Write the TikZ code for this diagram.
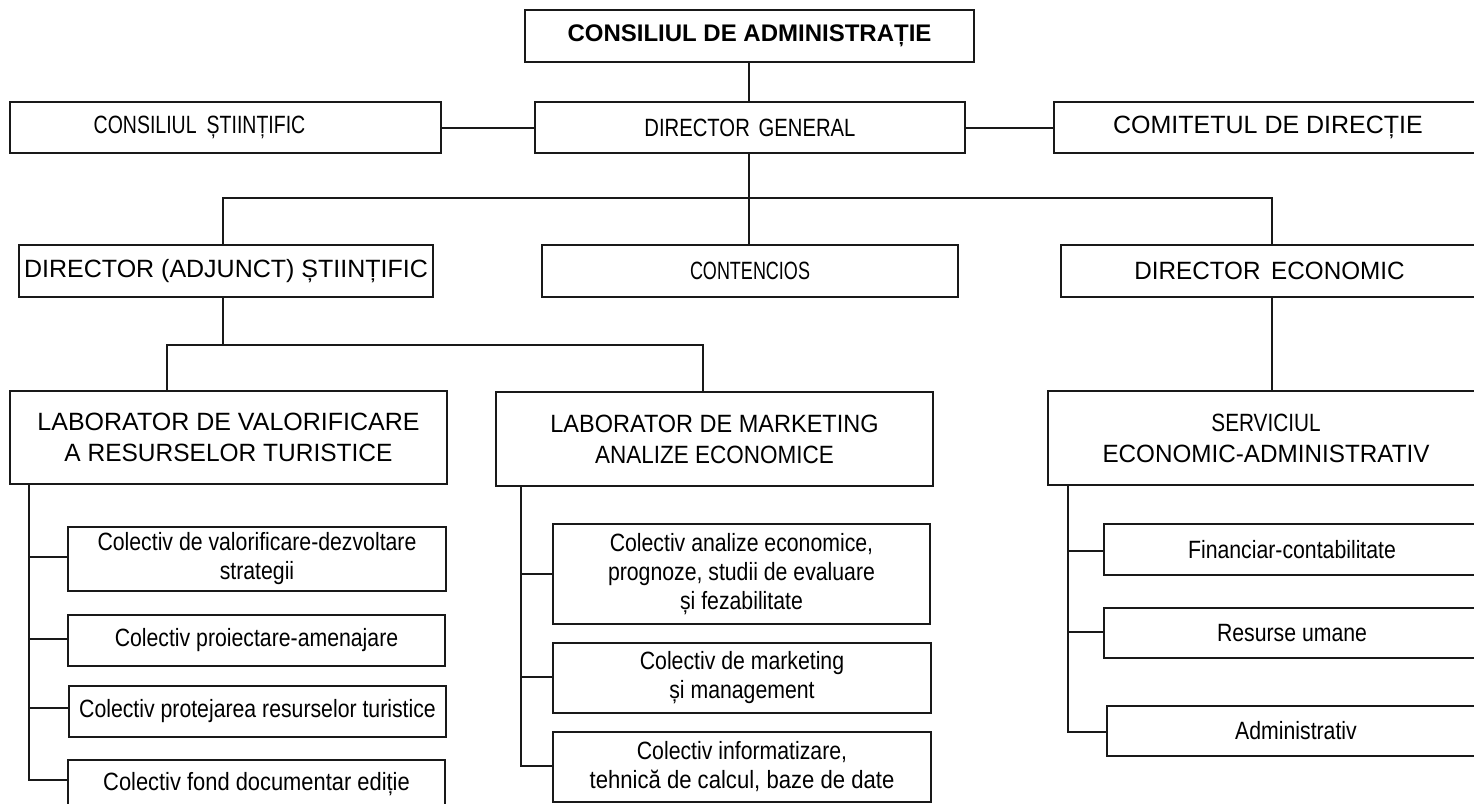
\documentclass[tikz,border=0pt]{standalone}
\usepackage{graphicx}
\usepackage{fontspec}
\setmainfont{Liberation Sans}
\newfontfamily\narrowfont{Liberation Sans}[FakeStretch=0.85]
\tikzset{
  box/.style={draw=black!90, line width=1pt, inner sep=0pt, align=center,
    font=\fontsize{12.5}{15.5}\selectfont},
  subbox/.style={box, font=\narrowfont\fontsize{12.5}{14.5}\selectfont},
  titlebox/.style={box, font=\bfseries\fontsize{12}{14}\selectfont},
  ln/.style={line width=1pt, draw=black!90},
}
\newcommand\hs[2]{\scalebox{#1}[1]{#2}}
% \bx{name}{x1}{y1}{x2}{y2}{style}{text}
\newcommand\bx[7]{\node[#6, minimum width={(#4-#2)*0.5pt}, minimum height={(#5-#3)*0.5pt}] (#1) at ({(#2+#4)/2},{(#3+#5)/2}) {#7};}
\begin{document}
\begin{tikzpicture}[x=0.5pt, y=-0.5pt]
\useasboundingbox (0,0) rectangle (1474,804);
\fill[white] (0,0) rectangle (1474,804);
\clip (0,0) rectangle (1474,804);

% level 0 / 1
\bx{cda}{525}{10}{974}{62}{titlebox}{CONSILIUL DE ADMINISTRAȚIE}
\bx{cs}{10}{102}{441}{153}{box}{\hs{0.78}{CONSILIUL\hspace{3pt} ȘTIINȚIFIC}\hspace{26pt}}
\bx{dg}{535}{102}{965}{153}{box}{\hs{0.81}{DIRECTOR\hspace{2pt} GENERAL}}
\bx{cd}{1054}{102}{1482}{153}{box}{COMITETUL DE DIRECȚIE}

% level 2
\bx{da}{19}{245}{433}{297}{box}{DIRECTOR (ADJUNCT) ȘTIINȚIFIC}
\bx{ct}{542}{245}{958}{297}{box}{\hs{0.72}{CONTENCIOS}}
\bx{de}{1061}{245}{1478}{297}{box}{\hs{0.97}{DIRECTOR\hspace{2pt} ECONOMIC}}

% level 3
\bx{lab1}{10}{391}{447}{484}{box}{LABORATOR DE VALORIFICARE\\\hs{0.98}{A RESURSELOR TURISTICE}}
\bx{lab2}{496}{392}{933}{486}{box}{\hs{0.94}{LABORATOR DE MARKETING}\\\hs{0.9}{ANALIZE ECONOMICE}}
\bx{sv}{1048}{391}{1484}{485}{box}{\hs{0.83}{SERVICIUL}\\\hs{0.97}{ECONOMIC-ADMINISTRATIV}}

% level 4 left
\bx{s1}{68}{527}{446}{591}{subbox}{Colectiv de valorificare-dezvoltare\\strategii}
\bx{s2}{68}{615}{445}{666}{subbox}{Colectiv proiectare-amenajare}
\bx{s3}{69}{686}{446}{737}{subbox}{Colectiv protejarea resurselor turistice}
\bx{s4}{68}{760}{445}{808}{subbox}{\hs{1.03}{Colectiv fond documentar ediție}}

% level 4 middle
\bx{m1}{553}{524}{930}{624}{subbox}{Colectiv analize economice,\\prognoze, studii de evaluare\\și fezabilitate}
\bx{m2}{553}{643}{931}{713}{subbox}{Colectiv de marketing\\și management}
\bx{m3}{553}{732}{931}{802}{subbox}{Colectiv informatizare,\\\hs{1.04}{tehnică de calcul, baze de date}}

% level 4 right
\bx{f1}{1104}{524}{1480}{575}{subbox}{Financiar-contabilitate}
\bx{f2}{1104}{608}{1480}{658}{subbox}{Resurse umane}
\bx{f3}{1107}{706}{1485}{756}{subbox}{Administrativ}

% connectors top
\coordinate (bus) at (749,198);
\coordinate (bL) at (223,198);
\coordinate (bR) at (1272,198);
\draw[ln] (cda.south -| bus) -- (dg.north -| bus);
\draw[ln] (cs.east) -- (dg.west);
\draw[ln] (dg.east) -- (cd.west);
\draw[ln] (dg.south -| bus) -- (ct.north -| bus);
\draw[ln] (da.north -| bL) -- (bL) -- (bR) -- (de.north -| bR);
\draw[ln] (de.south -| bR) -- (sv.north -| bR);

% connectors to labs
\coordinate (b2) at (223,345);
\coordinate (b2L) at (167,345);
\coordinate (b2R) at (703,345);
\draw[ln] (da.south -| b2) -- (b2);
\draw[ln] (lab1.north -| b2L) -- (b2L) -- (b2R) -- (lab2.north -| b2R);

% left trunk
\coordinate (t1) at (29,780);
\coordinate (t1a) at (29,557);
\coordinate (t1b) at (29,639);
\coordinate (t1c) at (29,708);
\draw[ln] (lab1.south -| t1) -- (t1) -- (t1 -| s4.west);
\draw[ln] (t1a) -- (t1a -| s1.west);
\draw[ln] (t1b) -- (t1b -| s2.west);
\draw[ln] (t1c) -- (t1c -| s3.west);

% middle trunk
\coordinate (t2) at (521,766);
\coordinate (t2a) at (521,574);
\coordinate (t2b) at (521,677);
\draw[ln] (lab2.south -| t2) -- (t2) -- (t2 -| m3.west);
\draw[ln] (t2a) -- (t2a -| m1.west);
\draw[ln] (t2b) -- (t2b -| m2.west);

% right trunk
\coordinate (t3) at (1068,732);
\coordinate (t3a) at (1068,551);
\coordinate (t3b) at (1068,632);
\draw[ln] (sv.south -| t3) -- (t3) -- (t3 -| f3.west);
\draw[ln] (t3a) -- (t3a -| f1.west);
\draw[ln] (t3b) -- (t3b -| f2.west);
\end{tikzpicture}
\end{document}
